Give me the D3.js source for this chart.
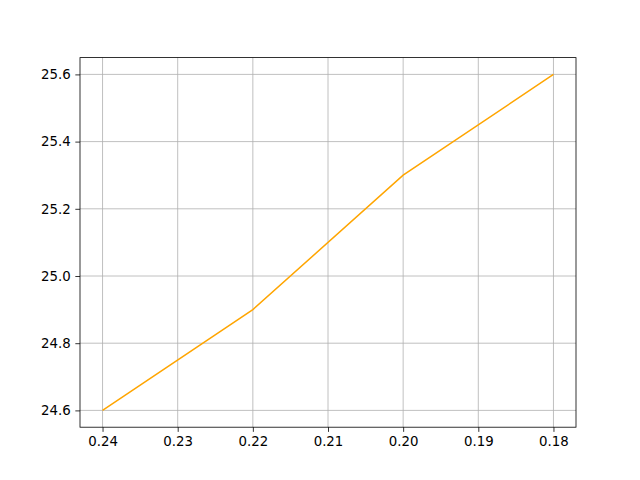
<!DOCTYPE html>
<html>
<head>
<meta charset="utf-8">
<script src="https://cdn.jsdelivr.net/npm/d3@7"></script>
<style>
  body { margin: 0; background: #fff; }
  svg { display: block; }
  text { font-family: "DejaVu Sans", sans-serif; font-size: 13.33px; fill: #000; }
</style>
</head>
<body>
<svg id="chart" width="640" height="480"></svg>
<script>
// data
const xValues = [0.24, 0.22, 0.20, 0.18];
const yValues = [24.6, 24.9, 25.3, 25.6];
const xTicks = [0.24, 0.23, 0.22, 0.21, 0.20, 0.19, 0.18];
const yTicks = [24.6, 24.8, 25.0, 25.2, 25.4, 25.6];

const svg = d3.select("#chart");
const axLeft = 80, axRight = 576, axTop = 57.6, axBottom = 427.2;

// matplotlib style 5% margins, x axis reversed
const xSpan = d3.max(xValues) - d3.min(xValues);
const ySpan = d3.max(yValues) - d3.min(yValues);
const x = d3.scaleLinear()
  .domain([d3.max(xValues) + xSpan * 0.05, d3.min(xValues) - xSpan * 0.05])
  .range([axLeft, axRight]);
const y = d3.scaleLinear()
  .domain([d3.min(yValues) - ySpan * 0.05, d3.max(yValues) + ySpan * 0.05])
  .range([axBottom, axTop]);

// grid
const grid = svg.append("g");
grid.selectAll(".gx").data(xTicks).enter().append("line")
  .attr("x1", d => x(d)).attr("x2", d => x(d))
  .attr("y1", axTop).attr("y2", axBottom)
  .attr("stroke", "#b0b0b0").attr("stroke-width", 0.8);
grid.selectAll(".gy").data(yTicks).enter().append("line")
  .attr("x1", axLeft).attr("x2", axRight)
  .attr("y1", d => y(d)).attr("y2", d => y(d))
  .attr("stroke", "#b0b0b0").attr("stroke-width", 0.8);

// line
const line = d3.line().x(d => x(d[0])).y(d => y(d[1]));
svg.append("path")
  .datum(xValues.map((v, i) => [v, yValues[i]]))
  .attr("d", line)
  .attr("fill", "none")
  .attr("stroke", "orange")
  .attr("stroke-width", 1.5);

// axes
const xAxis = d3.axisBottom(x).tickValues(xTicks).tickFormat(d3.format(".2f"))
  .tickSizeInner(4.67).tickSizeOuter(0).tickPadding(4.67);
const yAxis = d3.axisLeft(y).tickValues(yTicks).tickFormat(d3.format(".1f"))
  .tickSizeInner(4.67).tickSizeOuter(0).tickPadding(4.67);

const gx = svg.append("g").attr("transform", `translate(0,${axBottom})`).call(xAxis);
const gy = svg.append("g").attr("transform", `translate(${axLeft},0)`).call(yAxis);
[gx, gy].forEach(g => {
  g.select(".domain").remove();
  g.selectAll(".tick line").attr("stroke", "#000").attr("stroke-width", 0.8);
  g.selectAll(".tick text").style("font-family", "DejaVu Sans").style("font-size", "13.33px").attr("fill", "#000");
});

// frame
svg.append("rect")
  .attr("x", axLeft).attr("y", axTop)
  .attr("width", axRight - axLeft).attr("height", axBottom - axTop)
  .attr("fill", "none").attr("stroke", "#000").attr("stroke-width", 0.8);
</script>
</body>
</html>
